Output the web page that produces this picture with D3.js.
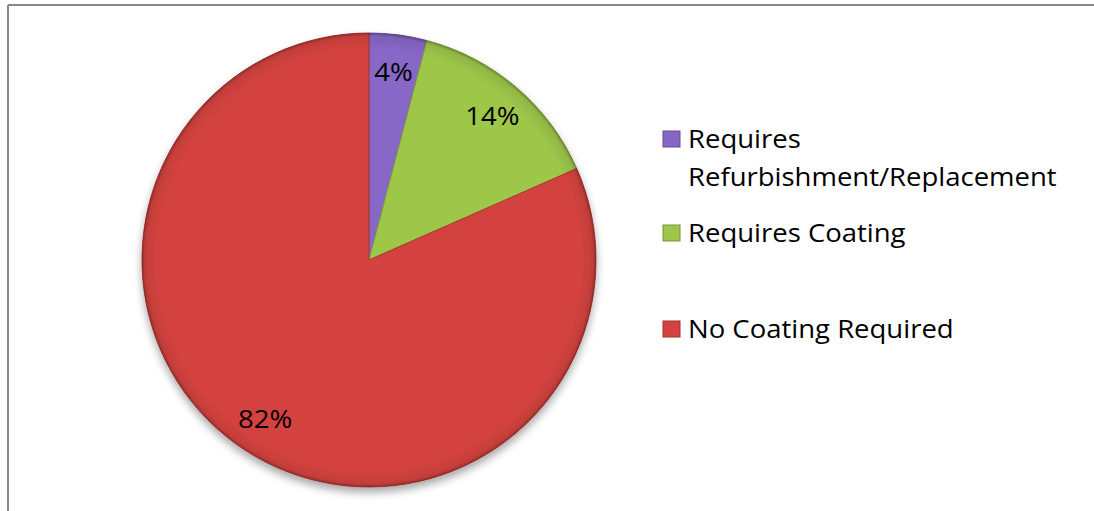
<!DOCTYPE html>
<html>
<head>
<meta charset="utf-8">
<script src="https://cdn.jsdelivr.net/npm/d3@7"></script>
<style>
  body { margin: 0; background: #fff; }
  text { font-family: "Open Sans", Lato, sans-serif; font-variant-ligatures: none; }
</style>
</head>
<body>
<div id="chart"></div>
<script>
// data
var categories = ["Requires Refurbishment/Replacement", "Requires Coating", "No Coating Required"];
var values = [4.1, 14.3, 81.6];
var legendLines = [["Requires", "Refurbishment/Replacement"], ["Requires Coating"], ["No Coating Required"]];
var colors = ["#8767c6", "#9ec64a", "#d4433f"];

var width = 1094, height = 511;
var cx = 369, cy = 260, radius = 227;
var stretch = 1.1; // the source picture is a bit wider than tall

var svg = d3.select("#chart").append("svg")
  .attr("width", width)
  .attr("height", height);

var defs = svg.append("defs");

// soft shadow under the pie
var shadow = defs.append("filter").attr("id", "shadow")
  .attr("x", "-20%").attr("y", "-20%").attr("width", "140%").attr("height", "140%");
shadow.append("feGaussianBlur").attr("in", "SourceAlpha").attr("stdDeviation", 4).attr("result", "blur");
shadow.append("feOffset").attr("in", "blur").attr("dx", 0).attr("dy", 5).attr("result", "off");
shadow.append("feComponentTransfer").attr("in", "off").attr("result", "sh")
  .append("feFuncA").attr("type", "linear").attr("slope", 0.35);
var merge = shadow.append("feMerge");
merge.append("feMergeNode").attr("in", "sh");
merge.append("feMergeNode").attr("in", "SourceGraphic");

// rim darkening to fake the bevel
var rimLocal = defs.append("radialGradient").attr("id", "rimLocal")
  .attr("gradientUnits", "userSpaceOnUse")
  .attr("cx", 0).attr("cy", 0).attr("r", radius);
rimLocal.append("stop").attr("offset", "0.93").attr("stop-color", "#000").attr("stop-opacity", 0);
rimLocal.append("stop").attr("offset", "0.985").attr("stop-color", "#000").attr("stop-opacity", 0.08);
rimLocal.append("stop").attr("offset", "1").attr("stop-color", "#000").attr("stop-opacity", 0.3);

// frame (only top and left visible)
svg.append("line").attr("x1", 8).attr("y1", 5).attr("x2", width).attr("y2", 5)
  .attr("stroke", "#878787").attr("stroke-width", 2);
svg.append("line").attr("x1", 8).attr("y1", 5).attr("x2", 8).attr("y2", height)
  .attr("stroke", "#878787").attr("stroke-width", 2);

var pie = d3.pie().value(function(d) { return d; }).sort(null);
var arcs = pie(values);
var total = d3.sum(values);

var arc = d3.arc().innerRadius(0).outerRadius(radius);
var labelArc = d3.arc().innerRadius(190).outerRadius(190);

var g = svg.append("g").attr("transform", "translate(" + cx + "," + cy + ")");

var slices = g.append("g").attr("filter", "url(#shadow)");
slices.selectAll("path.slice")
  .data(arcs)
  .enter()
  .append("path")
  .attr("class", "slice")
  .attr("d", arc)
  .attr("fill", function(d, i) { return colors[i]; })
  .attr("stroke", function(d, i) { return d3.color(colors[i]).darker(0.6); })
  .attr("stroke-width", 1);

slices.selectAll("path.rim")
  .data(arcs)
  .enter()
  .append("path")
  .attr("class", "rim")
  .attr("d", arc)
  .attr("fill", "url(#rimLocal)");

g.selectAll("text.pct")
  .data(arcs)
  .enter()
  .append("text")
  .attr("class", "pct")
  .attr("transform", function(d) {
    var c = labelArc.centroid(d);
    return "translate(" + c[0] + "," + c[1] + ") scale(" + stretch + ",1)";
  })
  .attr("dy", "0.36em")
  .attr("text-anchor", "middle")
  .attr("font-size", 25)
  .attr("fill", "#000")
  .text(function(d) { return Math.round(d.value / total * 100) + "%"; });

// legend
var legendY = [139, 233, 329];
var legend = svg.append("g");
legendLines.forEach(function(lines, i) {
  legend.append("rect")
    .attr("x", 663).attr("y", legendY[i] - 8)
    .attr("width", 17).attr("height", 16)
    .attr("fill", colors[i])
    .attr("stroke", d3.color(colors[i]).darker(0.8))
    .attr("stroke-width", 1);
  lines.forEach(function(t, j) {
    legend.append("text")
      .attr("transform", "translate(688," + (legendY[i] + j * 38) + ") scale(" + stretch + ",1)")
      .attr("dy", "0.36em")
      .attr("font-size", 25)
      .attr("fill", "#000")
      .text(t);
  });
});
</script>
</body>
</html>
